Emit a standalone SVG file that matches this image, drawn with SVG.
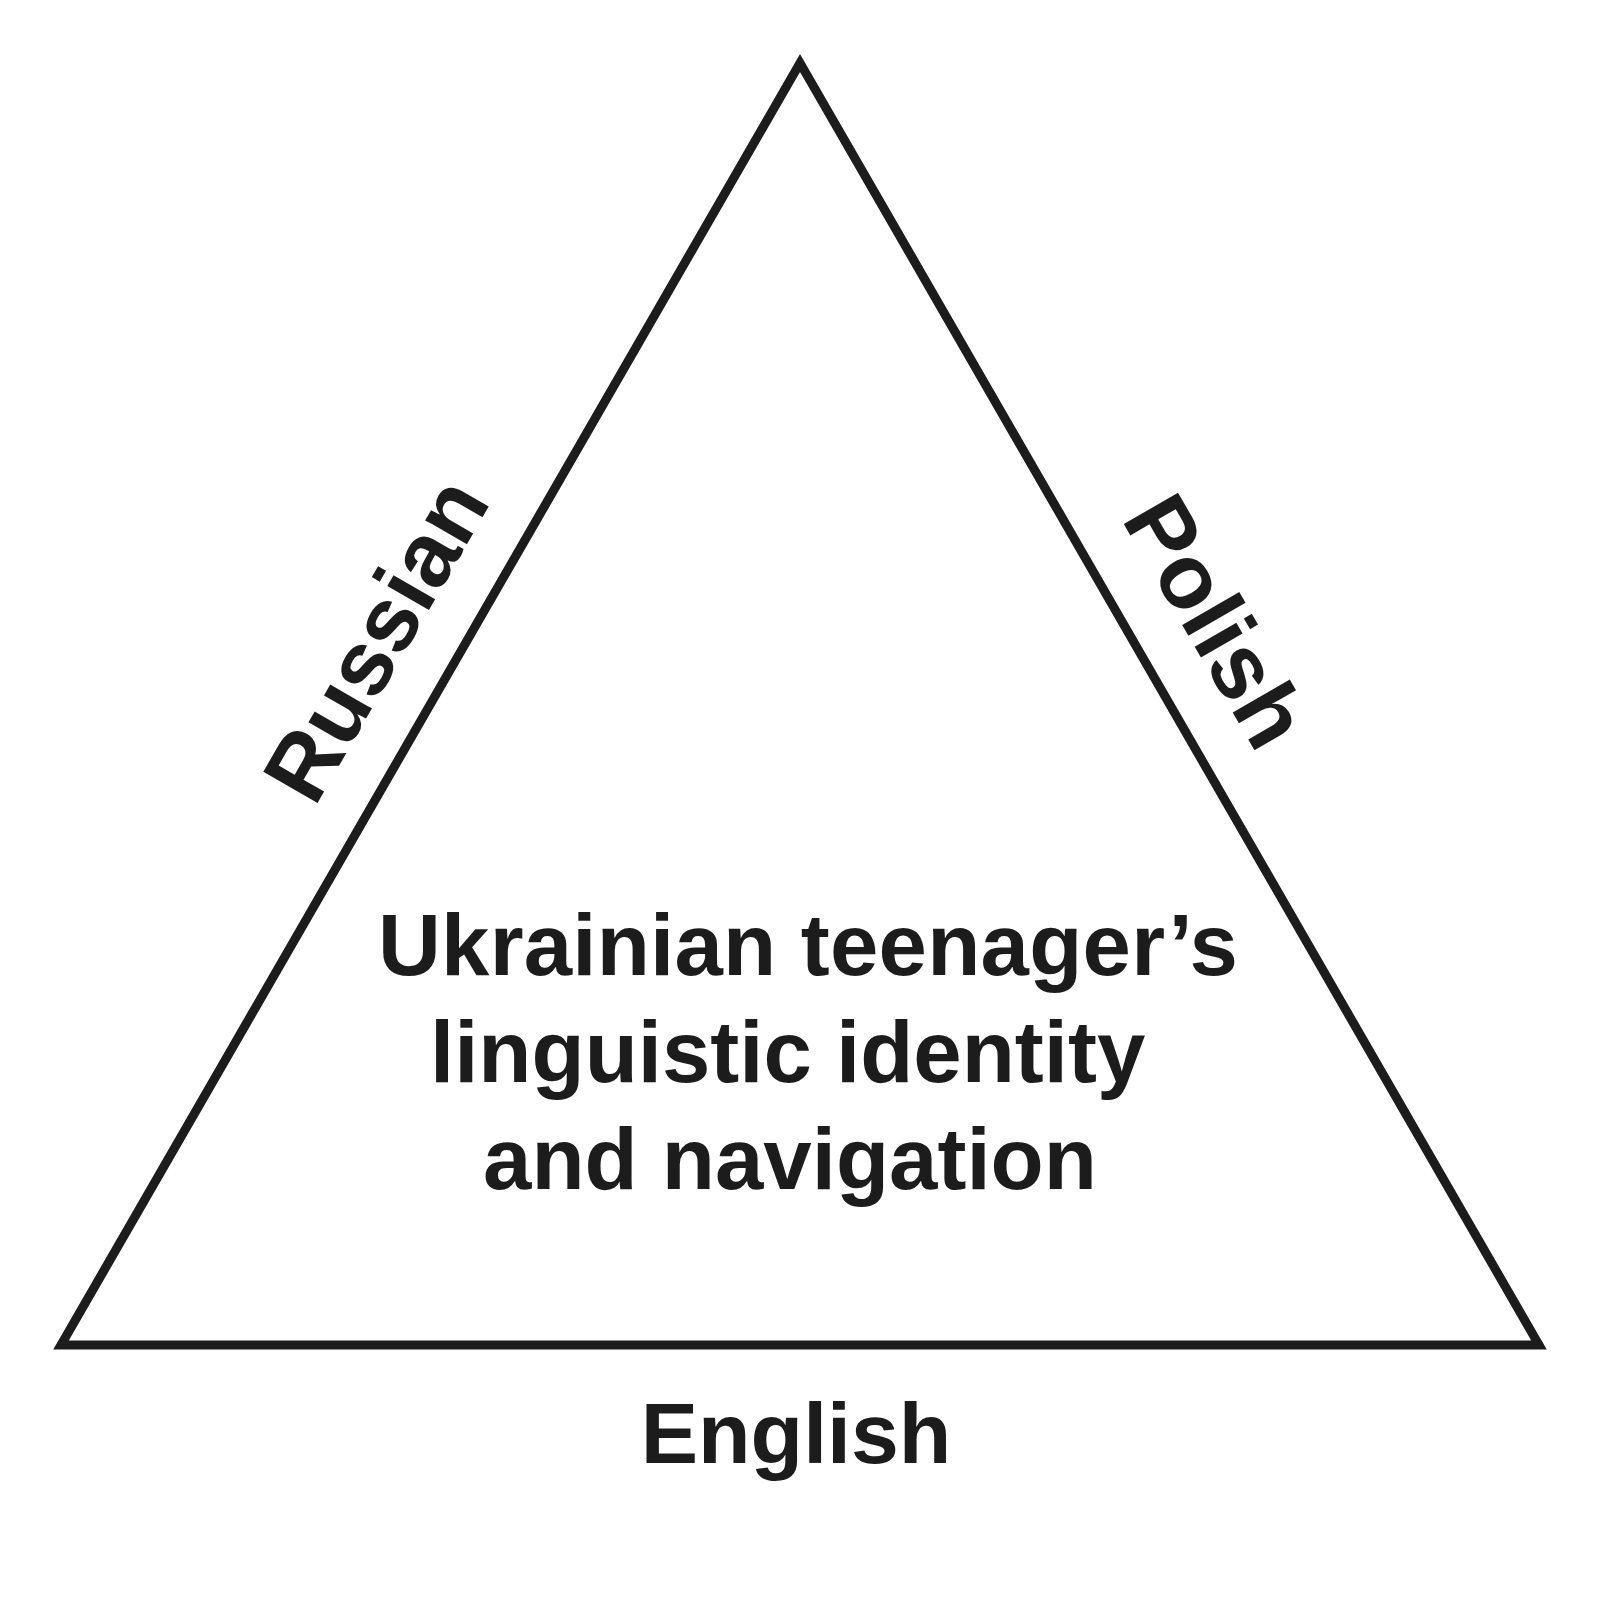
<svg xmlns="http://www.w3.org/2000/svg" width="1600" height="1600" viewBox="0 0 1600 1600">
  <style>
    .lbl { font-family: "Liberation Sans", Arial, Helvetica, sans-serif; font-weight: bold; fill: #1c1c1c; }
    .edge { fill: none; stroke: #1c1c1c; stroke-width: 9; stroke-linejoin: miter; stroke-miterlimit: 10; }
  </style>
  <rect x="0" y="0" width="1600" height="1600" fill="#ffffff"/>
  <g id="connectors">
    <polygon class="edge" points="800,63 1539,1345 61,1345"/>
  </g>
  <g id="node-russian">
    <text class="lbl" font-size="91" text-anchor="middle" transform="translate(403,655) rotate(-60)">Russian</text>
  </g>
  <g id="node-polish">
    <text class="lbl" font-size="91" text-anchor="middle" transform="translate(1189,637) rotate(60)">Polish</text>
  </g>
  <g id="node-english">
    <text class="lbl" font-size="86" text-anchor="middle" x="796" y="1463">English</text>
  </g>
  <g id="node-center">
    <text class="lbl" font-size="87" x="378" y="975" textLength="860" lengthAdjust="spacing">Ukrainian teenager’s</text>
    <text class="lbl" font-size="87" x="430" y="1082">linguistic identity</text>
    <text class="lbl" font-size="87" x="483" y="1189">and navigation</text>
  </g>
</svg>
